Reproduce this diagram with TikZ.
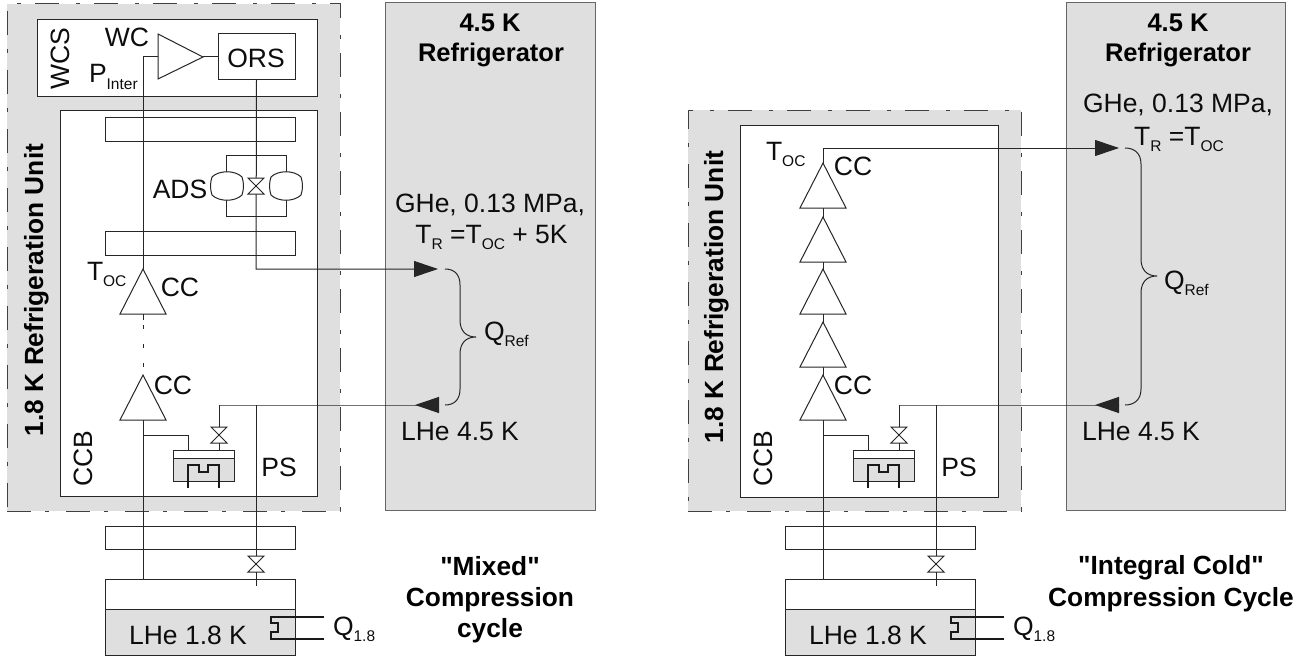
\documentclass[tikz,border=0pt]{standalone}
\usepackage{fontspec}
\setmainfont{Liberation Sans}
\newfontfamily\pf{Liberation Sans}
\usetikzlibrary{arrows.meta,calc}
\newcommand{\Sb}[1]{\raisebox{-6.5pt}{\fontsize{15.5}{15.5}\selectfont #1}}
% name, x1,y1,x2,y2, style
\newcommand{\bx}[6]{\node[#6,minimum width={(#4-#2)*1pt},minimum height={(#5-#3)*1pt}] (#1) at ({(#2+#4)/2},{(#3+#5)/2}) {};}
% triangle pointing up: name, x, tip y, base y
\newcommand{\compup}[4]{\coordinate (#1t) at (#2,#3); \coordinate (#1b) at (#2,#4);
  \draw[ln,fill=white] (#1t) -- ($(#1b)+(23,0)$) -- ($(#1b)+(-23,0)$) -- cycle;}
\newcommand{\valve}[3]{\coordinate (#1) at (#2,#3);
  \draw[ln,fill=white] ($(#1)+(-8,-8)$) -- ($(#1)+(8,-8)$) -- ($(#1)+(-8,8)$) -- ($(#1)+(8,8)$) -- cycle;}
\newcommand{\tank}[2]{\coordinate (#1) at (#2,186);
  \draw[ln,fill=white] ($(#1)+(-15,-9)$) .. controls ($(#1)+(-8,-16)$) and ($(#1)+(8,-16)$) .. ($(#1)+(15,-9)$)
    .. controls ($(#1)+(17,-3)$) and ($(#1)+(17,3)$) .. ($(#1)+(15,9)$)
    .. controls ($(#1)+(8,16)$) and ($(#1)+(-8,16)$) .. ($(#1)+(-15,9)$)
    .. controls ($(#1)+(-17,3)$) and ($(#1)+(-17,-3)$) .. ($(#1)+(-15,-9)$) -- cycle;}
\definecolor{hegray}{HTML}{DFDFDF}
\tikzset{
  x=1pt,y=-1pt,
  ln/.style={line width=1pt,draw=black!85},
  thk/.style={line width=2pt,draw=black!90},
  box/.style={draw=black!85,line width=1pt,fill=white,inner sep=0pt,outer sep=0pt},
  gbox/.style={draw=black!85,line width=1pt,fill=hegray,inner sep=0pt,outer sep=0pt},
  refbox/.style={draw=black!60,line width=1pt,fill=hegray,inner sep=0pt,outer sep=0pt},
  unit/.style={fill=hegray,draw=black!75,line width=1pt,dash pattern=on 24pt off 14pt on 4pt off 17pt,inner sep=0pt,outer sep=0pt},
  txt/.style={font=\pf\fontsize{26.5}{26.5}\selectfont,inner sep=0pt,outer sep=0pt,text=black!95,anchor=base},
  btxt/.style={font=\pf\fontsize{26.3}{26.3}\selectfont\bfseries,inner sep=0pt,outer sep=0pt,text=black,anchor=base},
  rtxt/.style={font=\pf\fontsize{25.5}{25.5}\selectfont\bfseries,inner sep=0pt,outer sep=0pt,text=black,anchor=base},
  hd/.style={-{Triangle[length=24pt,width=16pt]},line width=1pt,draw=black!85},
}
\newcommand{\lowerpart}{%
  \bx{rect3}{105}{526}{295}{549}{box}
  \bx{he}{105}{579}{295}{655}{gbox}
  \bx{hetop}{105}{579}{295}{609}{box}
  \bx{ptank}{173}{450}{234}{481}{gbox}
  \bx{ptanktop}{173}{450}{234}{458}{box}
  \coordinate (pbr) at (143,435);
  \coordinate (pin) at (188,450);
  \coordinate (hl) at (143,579);
  \draw[ln] (hl) -- (143,420);
  \draw[ln] (pbr) -| (pin);
  \coordinate (junc) at (219,405);
  \coordinate (ps) at (256,405);
  \coordinate (psend) at (256,586);
  \draw[ln] (219,450) -- (junc);
  \draw[ln] (ps) -- (psend);
  \valve{v2}{219}{435}
  \valve{v3}{256}{564}
  \draw[thk] (188,488) -- (188,465) -- (199,465) -- (199,472) -- (208,472) -- (208,465) -- (219,465) -- (219,488);
  \draw[thk] (324,617) -- (271,617) -- (271,623) -- (278,623) -- (278,632) -- (271,632) -- (271,639) -- (324,639);
  \node[txt,rotate=90] (ccb) at (92,459) {CCB};
  \node[txt] (ps-l) at (279,476) {PS};
  \node[txt] (lhe) at (188,644) {LHe 1.8 K};
  \node[txt,anchor=base west] (q18) at (333,635) {Q\Sb{1.8}};
}
\begin{document}
\begin{tikzpicture}
\useasboundingbox (0,0) rectangle (1307,661);
\fill[white] (0,0) rectangle (1307,661);
% ---------- left
\bx{unitL}{7}{4}{340}{511}{unit}
\bx{refL}{385}{3}{595}{510}{refbox}
\bx{wcs}{37}{20}{317}{96}{box}
\bx{ccbL}{60}{110}{317}{496}{box}
\bx{rect1}{105}{117}{295}{141}{box}
\bx{rect2}{105}{231}{295}{255}{box}
\lowerpart
\bx{ors}{218}{34}{295}{80}{box}
\node[txt] at (256,68) {ORS};
\coordinate (wcb) at (158,57);
\coordinate (wct) at (203,57);
\draw[ln,fill=white] (158,34) -- (wct) -- (158,79) -- cycle;
\draw[ln] (wct) -- (ors.west);
\coordinate (tocL) at (143,269);
\draw[ln] (wcb) -- (143,57) -- (tocL);
\compup{c1}{143}{269}{314}
\compup{c2}{143}{375}{420}
\draw[ln] (c1b) -- ++(0,6);
\coordinate (dd1) at (143,325);
\draw[ln,dash pattern=on 4pt off 15pt] (dd1) -- (c2t);
\draw[ln] (226,186) -- (226,155) -- (286,155) -- (286,186);
\draw[ln] (226,186) -- (226,216) -- (286,216) -- (286,186);
\tank{t1}{227}
\tank{t2}{286}
\coordinate (arL1) at (438,269);
\coordinate (arL2) at (415,405);
\draw[hd] (ors.south) -- (256,269) -- (arL1);
\valve{v1}{256}{186}
\draw[hd] (219,405) -- (438,405) -- (arL2);
\draw[ln] (445,269) .. controls (454,269) and (460,274) .. (460,285) -- (460,320)
  .. controls (460,331) and (466,337) .. (476,337)
  .. controls (466,337) and (460,343) .. (460,354) -- (460,389)
  .. controls (460,400) and (454,405) .. (445,405);
\node[txt] (wc) at (127,47) {WC};
\node[txt,rotate=90] (wcsl) at (69,59) {WCS};
\node[txt,anchor=base west] (pint) at (89,83) {P\Sb{Inter}};
\node[txt] (ads) at (180,198) {ADS};
\node[txt,anchor=base west] (toc) at (87,280) {T\Sb{OC}};
\node[txt] (cc1) at (180,296) {CC};
\node[txt] (cc2) at (173,394) {CC};
\node[btxt,rotate=90] (unitlab) at (43,290) {1.8 K Refrigeration Unit};
\node[rtxt] (reflab1) at (490,32) {4.5 K};
\node[rtxt] (reflab2) at (491,62) {Refrigerator};
\node[txt] (ghe) at (490,212) {GHe, 0.13 MPa,};
\node[txt] (tr) at (491.5,243) {T\Sb{R} =T\Sb{OC} + 5K};
\node[txt] (lhe45) at (460,440) {LHe 4.5 K};
\node[txt,anchor=base west] (qref) at (484,340) {Q\Sb{Ref}};
\node[btxt] (cap1a) at (490,575) {"Mixed"};
\node[btxt] (cap1b) at (490,606) {Compression};
\node[btxt] (cap1c) at (490,637) {cycle};
% ---------- right
\bx{unitR}{688}{110}{1021}{511}{unit}
\bx{refR}{1066}{3}{1285}{510}{refbox}
\bx{ccbR}{740}{125}{998}{497}{box}
\begin{scope}[xshift=680pt,name prefix=r-]
\lowerpart
\end{scope}
\coordinate (rtop) at (823,148);
\coordinate (arR1) at (1119,148);
\coordinate (arR2) at (1095,405);
\draw[hd] (823,163) -- (rtop) -- (arR1);
\draw[hd] (899,405) -- (1119,405) -- (arR2);
\draw[ln] (823,420) -- (823,163);
\compup{d1}{823}{163}{208}
\compup{d2}{823}{217}{262}
\compup{d3}{823}{269}{314}
\compup{d4}{823}{322}{367}
\compup{d5}{823}{375}{420}
\draw[ln] (1125,148) .. controls (1134,148) and (1141,153) .. (1141,164) -- (1141,259)
  .. controls (1141,270) and (1147,276) .. (1157,276)
  .. controls (1147,276) and (1141,282) .. (1141,293) -- (1141,389)
  .. controls (1141,400) and (1134,405) .. (1125,405);
\node[txt,anchor=base west] (tocR) at (766,160) {T\Sb{OC}};
\node[txt] (cc3) at (853,175) {CC};
\node[txt] (cc4) at (853,394) {CC};
\node[btxt,rotate=90] (unitlabR) at (723,297) {1.8 K Refrigeration Unit};
\node[rtxt] (reflabR1) at (1178,32) {4.5 K};
\node[rtxt] (reflabR2) at (1178,62) {Refrigerator};
\node[txt] (gheR) at (1178,113) {GHe, 0.13 MPa,};
\node[txt] (trR) at (1179,145) {T\Sb{R} =T\Sb{OC}};
\node[txt] (lhe45R) at (1141,440) {LHe 4.5 K};
\node[txt,anchor=base west] (qrefR) at (1164,289) {Q\Sb{Ref}};
\node[btxt] (cap2a) at (1171,574) {"Integral Cold"};
\node[btxt] (cap2b) at (1171,606) {Compression Cycle};
\end{tikzpicture}
\end{document}
